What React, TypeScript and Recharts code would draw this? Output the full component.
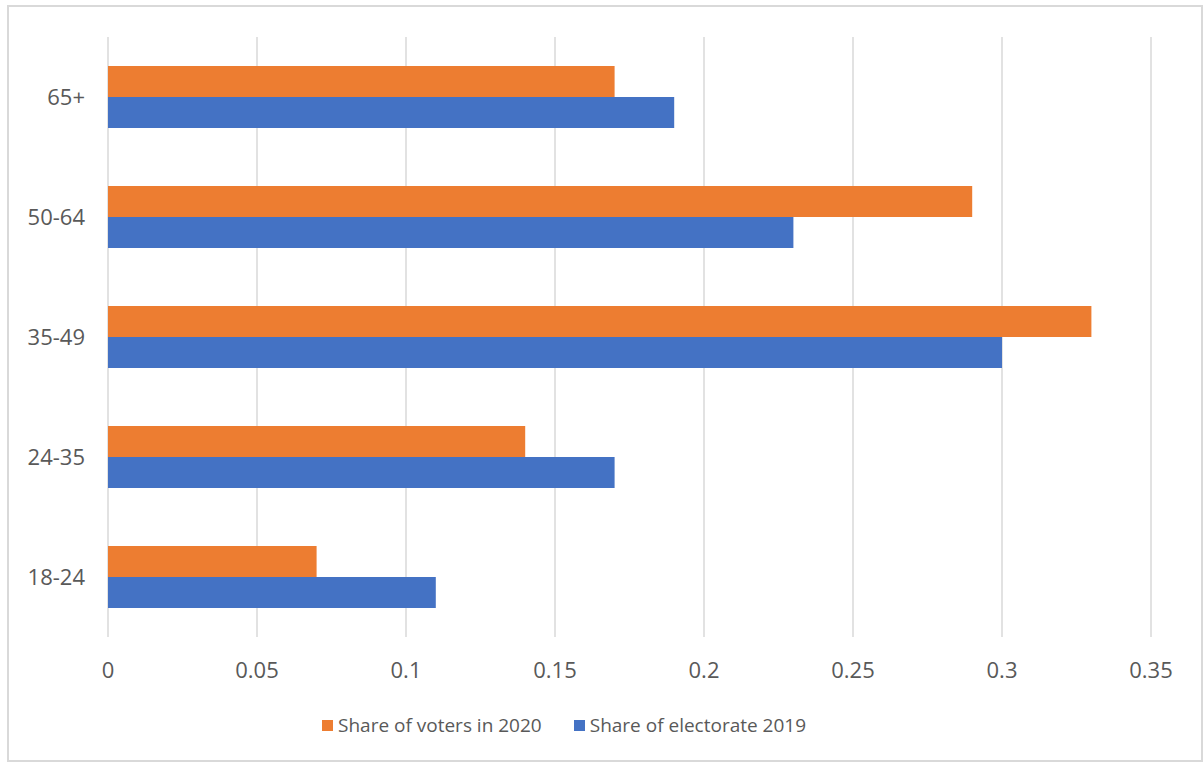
import React from 'react';
import { BarChart, Bar, XAxis, YAxis, CartesianGrid, Legend } from 'recharts';

const categories = ['65+', '50-64', '35-49', '24-35', '18-24'];
const votersShare2020 = [0.17, 0.29, 0.33, 0.14, 0.07];
const electorateShare2019 = [0.19, 0.23, 0.3, 0.17, 0.11];
const xTicks = [0, 0.05, 0.1, 0.15, 0.2, 0.25, 0.3, 0.35];
const seriesNames = ['Share of voters in 2020', 'Share of electorate 2019'];

const data = categories.map((c, i) => ({
  category: c,
  voters: votersShare2020[i],
  electorate: electorateShare2019[i],
}));

const FONT = '"Open Sans", "Liberation Sans", sans-serif';
const TEXT = '#595959';

const renderLegend = (props: any) => {
  const payload = (props.payload || [])
    .slice()
    .sort((a: any, b: any) => seriesNames.indexOf(a.value) - seriesNames.indexOf(b.value));
  return (
    <div style={{ display: 'flex', alignItems: 'center', fontFamily: FONT, fontSize: 19, color: TEXT, whiteSpace: 'nowrap' }}>
      {payload.map((p: any, i: number) => (
        <div key={i} style={{ display: 'flex', alignItems: 'center', marginRight: 32 }}>
          <span style={{ display: 'inline-block', width: 11, height: 11, background: p.color, marginRight: 5 }} />
          <span>{p.value}</span>
        </div>
      ))}
    </div>
  );
};

export default function App() {
  return (
    <div style={{ position: 'absolute', left: 0, top: 0, width: 1203, height: 762, background: '#fff' }}>
      <div
        style={{
          position: 'absolute',
          left: 7,
          top: 5,
          width: 1196,
          height: 757,
          border: '2px solid #d9d9d9',
          boxSizing: 'border-box',
        }}
      />
      <div style={{ position: 'absolute', left: 0, top: 0 }}>
        <BarChart
          width={1203}
          height={762}
          data={data}
          layout="vertical"
          margin={{ top: 37, right: 52, bottom: 75, left: 0 }}
          barGap={0}
        >
          <CartesianGrid horizontal={false} vertical={true} stroke="#d9d9d9" strokeWidth={1.5} />
          <XAxis
            type="number"
            domain={[0, 0.35]}
            ticks={xTicks}
            axisLine={false}
            tickLine={false}
            tickMargin={19}
            height={50}
            interval={0}
            tick={{ fill: TEXT, fontSize: 22, fontFamily: FONT }}
          />
          <YAxis
            type="category"
            dataKey="category"
            width={108}
            axisLine={false}
            tickLine={false}
            tickMargin={17}
            interval={0}
            tick={{ fill: TEXT, fontSize: 22, fontFamily: FONT }}
          />
          <Legend
            layout="horizontal"
            verticalAlign="middle"
            align="center"
            content={renderLegend}
            wrapperStyle={{ position: 'absolute', left: 322, top: 712, width: 600, height: 30 }}
          />
          <Bar dataKey="voters" name={seriesNames[0]} fill="#ED7D31" barSize={31} isAnimationActive={false} />
          <Bar dataKey="electorate" name={seriesNames[1]} fill="#4472C4" barSize={31} isAnimationActive={false} />
        </BarChart>
      </div>
    </div>
  );
}
